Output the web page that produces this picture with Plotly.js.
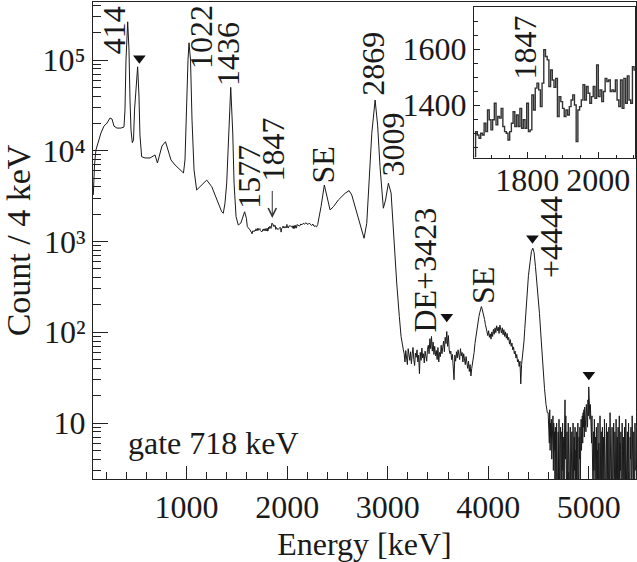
<!DOCTYPE html>
<html><head><meta charset="utf-8">
<script src="https://cdn.plot.ly/plotly-3.0.1.min.js"></script>
<style>html,body{margin:0;padding:0;background:#fff}#chart{width:637px;height:562px}</style>
</head><body><div id="chart"></div>
<script>
// ---------- data ----------
// segment 1: 70 - 1640 keV (energy, counts per 4 keV)
const seg1E = [72,84,98,118,148,178,208,238,258,278,307,347,377,387,397,414,427,437,447,460,472,482,500,513,526,536,553,586,636,666,686,710,725,755,790,815,845,885,934,969,984,999,1014,1024,1039,1054,1074,1100,1150,1200,1250,1299,1349,1365,1382,1399,1415,1439,1459,1472,1492,1514,1540,1560,1577,1595,1604,1631];
const seg1C = [3260,6980,10200,12200,15700,18700,20200,23000,22400,18700,17800,17800,18300,28100,100000,264000,129000,36300,16900,12300,13200,28100,60300,84300,41200,14900,8600,8340,8340,8770,9000,7340,8550,11300,12600,10200,7920,6980,6150,5700,7920,36300,100000,155000,100000,21800,6150,3700,4200,4760,4030,2870,2130,2050,2660,4420,10200,50000,15700,4420,1880,1520,1600,1900,2130,1800,1460,1343];

// inset region 1652 - 2103 keV (bins)
const insetStart = 1652, insetBin = 4.8;
const insetCounts = [1217,1306,1294,1282,1300,1294,1336,1306,1383,1348,1312,1348,1407,1330,1360,1354,1389,1324,1306,1300,1276,1306,1336,1377,1324,1365,1324,1389,1318,1348,1318,1407,1306,1312,1437,1383,1461,1479,1455,1395,1479,1598,1574,1562,1467,1526,1490,1464,1496,1360,1431,1413,1389,1360,1383,1365,1395,1419,1437,1401,1270,1383,1395,1419,1473,1419,1467,1443,1407,1431,1467,1425,1544,1431,1455,1413,1449,1496,1485,1490,1449,1455,1449,1490,1419,1395,1490,1389,1496,1407,1505,1419,1407,1538,1526];

// segment 2: 2112 - 3156 keV
const seg2E = [2112,2124,2136,2148,2160,2172,2184,2196,2208,2220,2232,2244,2256,2268,2280,2292,2304,2320,2337,2370,2404,2427,2460,2509,2576,2616,2643,2676,2708,2742,2765,2792,2815,2842,2875,2900,2924,2957,2979,3007,3034,3057,3090,3116,3133,3156];
const seg2C = [1520,1480,1560,1530,1590,1550,1610,1570,1540,1600,1530,1500,1560,1470,1490,1450,1540,1900,2420,4200,3000,2230,2420,2870,3400,3640,3260,2420,1730,1285,1087,1590,4390,15600,36300,19200,6680,2330,2870,4390,3430,1233,348,149,90,64];

// segment 3: 3164 - 3924 keV, every 8 keV
const seg3Start = 3164, seg3Step = 8;
const seg3C = [58,47,63,52,44,66,55,49,61,45,57,68,50,43,59,53,64,47,56,35,60,49,67,52,58,46,62,55,48,65,
  72,58,85,66,90,62,78,57,70,55,
  63,50,68,47,60,54,72,58,
  66,80,61,88,75,102,70,92,64,58,
  62,50,57,45,30,
  56,48,61,52,64,58,50,66,55,60,47,58,51,44,54,46,40,48,37,44,33,40,
  45,52,60,75,88,100,115,130,150,165,182];

// segment 4: 3932 - 4364 keV, every 8 keV
const seg4Start = 3932, seg4Step = 8;
const seg4C = [192,180,168,150,138,122,110,100,92,104,88,96,84,101,90,108,95,112,99,118,104,114,97,120,106,98,112,94,107,90,101,86,97,82,88,74,83,70,76,64,69,58,62,52,57,47,50,42,48,27,44,52,61,80,110];

// segment 5: 4444 keV peak
const seg5E = [4372,4384,4400,4417,4430,4444,4456,4470,4490,4510,4528,4545,4560,4575,4588];
const seg5C = [150,247,420,600,780,845,760,530,300,161,80,40,24,16,13];

// segment 6: 4596 - 5464 keV, every 4 keV (low statistics)
const seg6Start = 4596, seg6Step = 4;
const seg6C = [13,8,12,6,14,5,10,7,11,4,9,6,12,3,10,5,8,
  2,9,4,1,10,3,7,1,8,2,11,4,1,6,9,2,1,8,3,10,1,5,7,2,9,
  18,4,12,
  3,1,8,5,1,10,2,7,1,4,9,1,6,3,8,1,2,10,4,1,7,3,9,1,5,2,8,1,6,10,3,1,7,4,9,2,6,11,5,
  8,12,6,13,9,14,7,15,10,13,8,16,11,14,9,18,12,
  25,15,20,11,16,9,14,6,12,4,10,
  1,8,3,11,2,1,7,4,9,1, 5,2,10,1,6,3,1,12,4,2, 8,1,5,9,1,3,7,1,11,2, 6,1,4,10,2,1,8,3,1,9,
  5,1,13,2,7,1,4,9,1,6, 3,10,1,2,8,5,1,11,3,1, 7,2,9,1,4,12,1,6,3,8, 1,2,10,5,1,7,3,1,9,4,
  1,11,2,6,1,8,3,1,10,5, 2,1,7,4,9,1,3,12,2,6, 1,8,4,1,10,3];

// marked peaks (filled triangles)
const markE = [530, 3588, 4440, 5001];
const markC = [104500, 148, 1087, 34];

// peak labels
const peakLabels = ['414','1022','1436','1577','1847','SE','2869','3009','DE+3423','SE','+4444'];
const peakLabelE = [278,1143,1412,1621,1855,2352,2850,3049,3367,3949,4626];
const peakLabelLogC = [5.33,5.253,5.066,3.715,4.009,3.844,4.956,4.064,2.687,2.511,3.051];

const xTickVals = [1000,2000,3000,4000,5000];
const yTickVals = [10,100,1000,10000,100000];
const yTickText = ['10','10\u00b2','10\u00b3','10\u2074','10\u2075'];

// ---------- build the spectrum ----------
const mainE = [], mainC = [];
function addPts(E, C){ for (let i=0;i<C.length;i++){ mainE.push(E[i]); mainC.push(C[i]); } }
function addGrid(s, st, C){ for (let i=0;i<C.length;i++){ mainE.push(s+st*i); mainC.push(C[i]); } }
addPts(seg1E, seg1C);
addGrid(insetStart, insetBin, insetCounts);
addPts(seg2E, seg2C);
addGrid(seg3Start, seg3Step, seg3C);
addGrid(seg4Start, seg4Step, seg4C);
addPts(seg5E, seg5C);
addGrid(seg6Start, seg6Step, seg6C);

const insetE = insetCounts.map((_, i) => insetStart + insetBin*i);

const FONT = 'Liberation Serif, Times New Roman, serif';
const TXT = '#1a1a1a';
const FS = 32;

const yMinor = [];
[1,10,100,1000,10000,100000].forEach(d => { for (let k=2;k<=9;k++) yMinor.push(k*d); });

const traces = [
  {x: mainE, y: mainC, type: 'scatter', mode: 'lines', line: {color: '#1a1a1a', width: 1}, hoverinfo: 'skip', showlegend: false},
  {x: markE, y: markC, type: 'scatter', mode: 'markers', marker: {symbol: 'triangle-down', size: 11, color: '#111'}, showlegend: false},
  {x: insetE, y: insetCounts, xaxis: 'x2', yaxis: 'y2', type: 'scatter', mode: 'lines', line: {shape: 'hvh', color: '#333', width: 1.4}, showlegend: false}
];

const annotations = peakLabels.map((t, i) => ({
  text: t, x: peakLabelE[i], y: peakLabelLogC[i], xref: 'x', yref: 'y', showarrow: false,
  textangle: -90, xanchor: 'center', yanchor: 'middle', font: {family: FONT, size: FS, color: TXT}
}));
annotations.push({text: ' ', x: 1852, y: 3.26, xref: 'x', yref: 'y', showarrow: true, ax: 0, ay: -31,
  arrowhead: 5, arrowsize: 1.6, arrowwidth: 1, arrowcolor: '#333', font: {size: 4}});
annotations.push({text: 'gate 718 keV', x: 400, y: 0.782, xref: 'x', yref: 'y', showarrow: false,
  xanchor: 'left', yanchor: 'middle', font: {family: FONT, size: FS, color: TXT}});
annotations.push({text: '1847', x: 1793, y: 1606, xref: 'x2', yref: 'y2', showarrow: false, textangle: -90,
  xanchor: 'center', yanchor: 'middle', font: {family: FONT, size: FS, color: TXT}});

const layout = {
  width: 637, height: 562,
  margin: {l: 93, r: 1, t: 2, b: 83},
  paper_bgcolor: '#fff', plot_bgcolor: 'rgba(0,0,0,0)',
  font: {family: FONT, size: FS, color: TXT},
  showlegend: false,
  xaxis: {
    range: [69, 5470], showgrid: false, zeroline: false,
    showline: true, mirror: true, linecolor: '#222', linewidth: 1,
    tickmode: 'array', tickvals: xTickVals, ticks: 'inside', ticklen: 13, tickcolor: '#222',
    minor: {dtick: 200, tick0: 0, ticks: 'inside', ticklen: 7, tickcolor: '#222'},
    tickfont: {family: FONT, size: FS, color: TXT},
    title: {text: 'Energy [keV]', font: {family: FONT, size: FS, color: TXT}, standoff: 10}
  },
  yaxis: {
    type: 'log', range: [0.383, 5.64], showgrid: false, zeroline: false,
    showline: true, mirror: true, linecolor: '#222', linewidth: 1,
    tickmode: 'array', tickvals: yTickVals, ticktext: yTickText, ticks: 'inside', ticklen: 15, tickcolor: '#222',
    minor: {tickmode: 'array', tickvals: yMinor, ticks: 'inside', ticklen: 8, tickcolor: '#222'},
    tickfont: {family: FONT, size: FS, color: TXT},
    title: {text: 'Count / 4 keV', font: {family: FONT, size: 34, color: TXT}, standoff: 6}
  },
  xaxis2: {
    domain: [0.7017, 0.998], anchor: 'y2', range: [1650, 2103], showgrid: false, zeroline: false,
    showline: true, mirror: true, linecolor: '#222', linewidth: 1,
    tickmode: 'linear', tick0: 0, dtick: 200, ticks: 'inside', ticklen: 6, tickcolor: '#222',
    minor: {dtick: 50, tick0: 0, ticks: 'inside', ticklen: 3.5, tickcolor: '#222'},
    ticklabelstandoff: -7,
    tickfont: {family: FONT, size: FS, color: TXT}
  },
  yaxis2: {
    domain: [0.672, 0.989], anchor: 'x2', range: [1210, 1750], showgrid: false, zeroline: false,
    showline: true, mirror: true, linecolor: '#222', linewidth: 1,
    tickmode: 'linear', tick0: 0, dtick: 200, ticks: 'inside', ticklen: 6, tickcolor: '#222',
    minor: {dtick: 50, tick0: 0, ticks: 'inside', ticklen: 3.5, tickcolor: '#222'},
    tickfont: {family: FONT, size: FS, color: TXT}
  },
  annotations: annotations
};

Plotly.newPlot('chart', traces, layout, {displayModeBar: false, staticPlot: true});
</script></body></html>
